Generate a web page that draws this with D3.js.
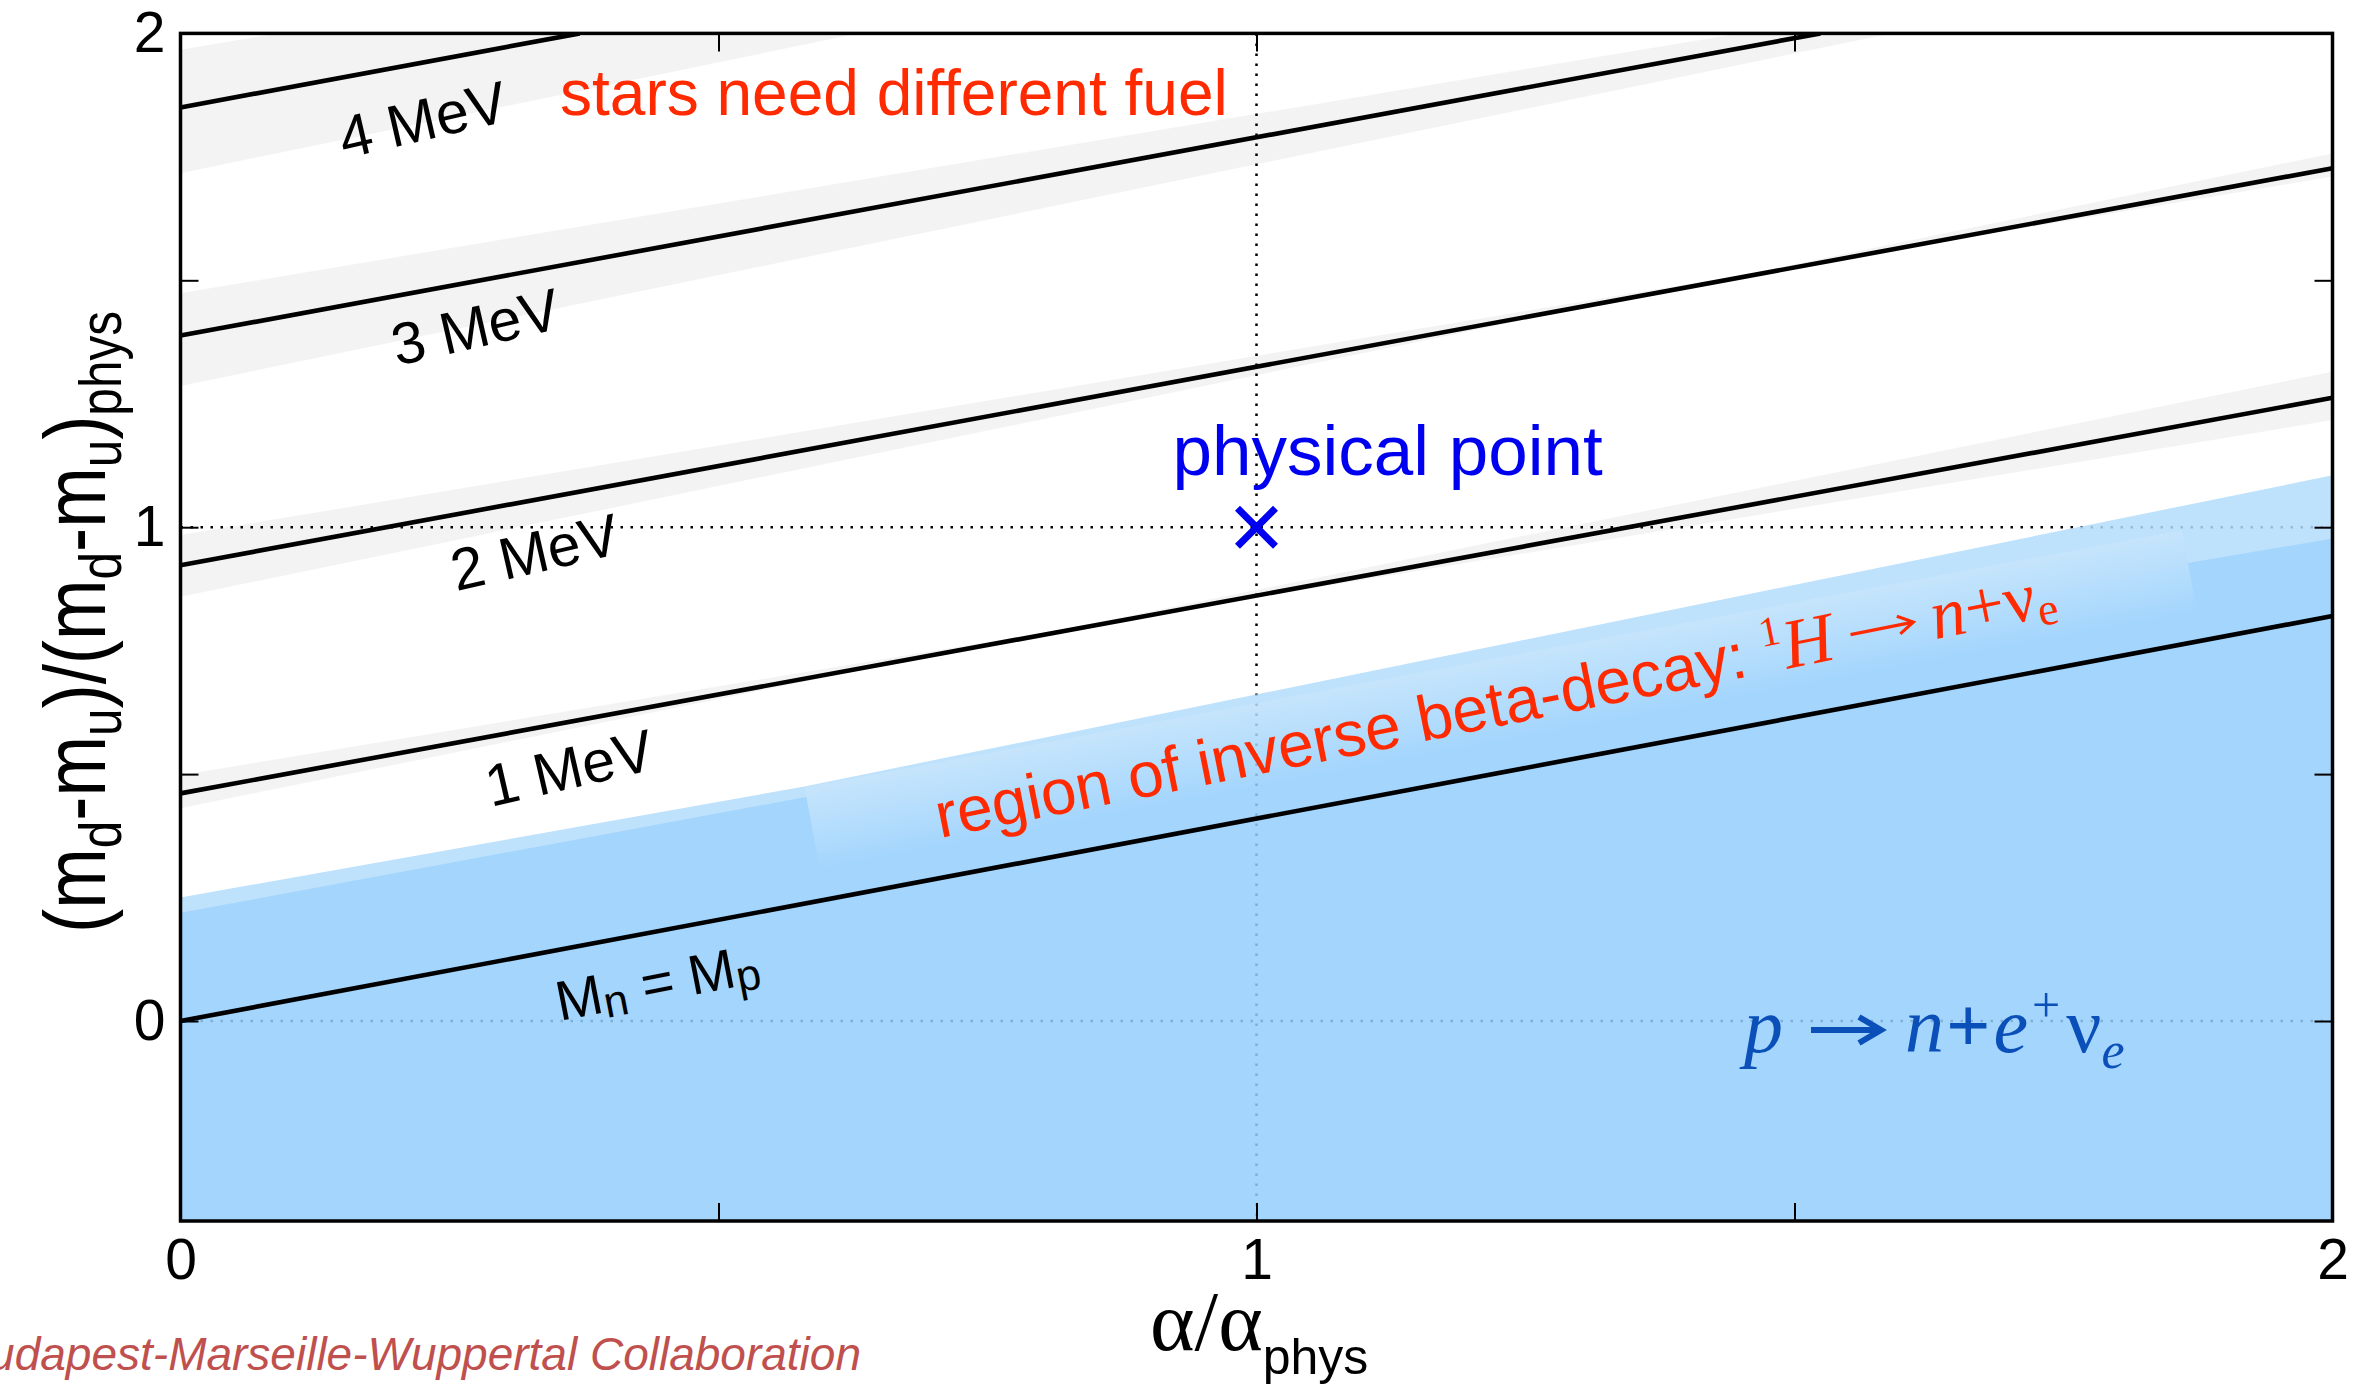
<!DOCTYPE html>
<html><head><meta charset="utf-8">
<script src="https://cdn.jsdelivr.net/npm/d3@7"></script>
<style>html,body{margin:0;padding:0;background:#fff;} svg{display:block;}</style>
</head><body>
<svg id="chart" width="2378" height="1387"></svg>
<script>
// ---------------- data ----------------
const xTickValues = [0, 0.5, 1, 1.5, 2];
const yTickValues = [0, 0.5, 1, 1.5, 2];
const xTickLabels = ["0", "", "1", "", "2"];
const yTickLabels = ["0", "", "1", "", "2"];

// contour lines of constant (M_n - M_p)
const contourNames = ["Mn = Mp", "1 MeV", "2 MeV", "3 MeV", "4 MeV"];
const contourX0 = [0, 0, 0, 0, 0];
const contourY0 = [0.000, 0.461, 0.923, 1.388, 1.850];
const contourX1 = [2, 2, 2, 1.524, 0.371];
const contourY1 = [0.820, 1.262, 1.727, 2.000, 2.000];

// uncertainty bands (1..4 MeV), edges given at alpha = 0 and alpha = 2
const bandUpperAt0 = [0.498, 0.984, 1.474, 1.967];
const bandUpperAt2 = [1.217, 1.710, 2.200, 2.693];
const bandLowerAt0 = [0.431, 0.859, 1.286, 1.717];
const bandLowerAt2 = [1.315, 1.757, 2.184, 2.615];

// inverse beta-decay region (blue)
const regionEdgeX = [0, 0.58, 2];
const regionLightTop = [0.250, 0.475, 1.105];
const regionDarkTop = [0.219, 0.453, 0.977];
// label box corners (top-left, top-right, bottom-left)
const boxX = [0.580, 1.860, 0.597];
const boxY = [0.473, 0.994, 0.270];

const physicalPoint = [1, 1];
const gridX = [1];
const gridY = [0, 1];

// ---------------- chart ----------------
const svg = d3.select("#chart");
const L = 180.5, R = 2332.5, T = 33.4, B = 1221;
const yMin = -0.405;
const x = d3.scaleLinear().domain([0, 2]).range([L, R]);
const y = d3.scaleLinear().domain([yMin, 2]).range([B, T]);

svg.append("rect").attr("width", 2378).attr("height", 1387).attr("fill", "#fff");

const defs = svg.append("defs");
defs.append("clipPath").attr("id", "plotClip")
  .append("rect").attr("x", L).attr("y", T).attr("width", R - L).attr("height", B - T);
const grad = defs.append("linearGradient").attr("id", "boxGrad")
  .attr("x1", 0).attr("y1", 0).attr("x2", 0).attr("y2", 1);
grad.append("stop").attr("offset", 0).attr("stop-color", "#bde1fc");
grad.append("stop").attr("offset", 0.85).attr("stop-color", "#93cefd");

const plot = svg.append("g").attr("clip-path", "url(#plotClip)");

// gray bands
const bandData = bandUpperAt0.map((u0, i) => [[0, u0], [2, bandUpperAt2[i]], [2, bandLowerAt2[i]], [0, bandLowerAt0[i]]]);
plot.append("g").selectAll("path").data(bandData).join("path")
  .attr("d", d => "M" + d.map(p => [x(p[0]), y(p[1])].join(",")).join("L") + "Z")
  .attr("fill", "#f3f3f3");

// dotted grid
plot.append("g").selectAll("line.gx").data(gridX).join("line")
  .attr("x1", d => x(d)).attr("x2", d => x(d)).attr("y1", T).attr("y2", B)
  .attr("stroke", "#000").attr("stroke-width", 2.5).attr("stroke-dasharray", "2.5,7.5");
plot.append("g").selectAll("line.gy").data(gridY).join("line")
  .attr("y1", d => y(d)).attr("y2", d => y(d)).attr("x1", L).attr("x2", R)
  .attr("stroke", "#000").attr("stroke-width", 2.5).attr("stroke-dasharray", "2.5,7.5");

// blue regions
const blue = plot.append("g").attr("opacity", 0.85);
const area = d3.area().x(d => x(d[0])).y0(y(yMin)).y1(d => y(d[1]));
blue.append("path").attr("d", area(regionEdgeX.map((v, i) => [v, regionLightTop[i]]))).attr("fill", "#b3ddfc");
blue.append("path").attr("d", area(regionEdgeX.map((v, i) => [v, regionDarkTop[i]]))).attr("fill", "#93cefd");
{
  const tl = [x(boxX[0]), y(boxY[0])], tr = [x(boxX[1]), y(boxY[1])], bl = [x(boxX[2]), y(boxY[2])];
  const ang = Math.atan2(tr[1] - tl[1], tr[0] - tl[0]) * 180 / Math.PI;
  const w = Math.hypot(tr[0] - tl[0], tr[1] - tl[1]);
  const h = Math.hypot(bl[0] - tl[0], bl[1] - tl[1]);
  blue.append("rect").attr("transform", `translate(${tl[0]},${tl[1]}) rotate(${ang})`)
    .attr("width", w).attr("height", h).attr("fill", "url(#boxGrad)");
}

// contour lines
plot.append("g").selectAll("line").data(contourNames).join("line")
  .attr("x1", (d, i) => x(contourX0[i])).attr("y1", (d, i) => y(contourY0[i]))
  .attr("x2", (d, i) => x(contourX1[i])).attr("y2", (d, i) => y(contourY1[i]))
  .attr("stroke", "#000").attr("stroke-width", 4.6);

// axes
function styleAxis(g) {
  g.select(".domain").remove();
  g.selectAll(".tick line").attr("stroke", "#000").attr("stroke-width", 2);
  g.selectAll(".tick text").attr("fill", "#000");
  g.attr("font-family", "'Liberation Sans', Arial, sans-serif").attr("font-size", 57);
}
svg.append("g").attr("transform", `translate(0,${B})`)
  .call(d3.axisBottom(x).tickValues(xTickValues).tickSizeInner(-18).tickSizeOuter(0).tickPadding(18)
    .tickFormat((d, i) => xTickLabels[i])).call(styleAxis);
svg.append("g").attr("transform", `translate(0,${T})`)
  .call(d3.axisTop(x).tickValues(xTickValues).tickSizeInner(-18).tickSizeOuter(0).tickFormat(() => "")).call(styleAxis);
svg.append("g").attr("transform", `translate(${L},0)`)
  .call(d3.axisLeft(y).tickValues(yTickValues).tickSizeInner(-18).tickSizeOuter(0).tickPadding(15)
    .tickFormat((d, i) => yTickLabels[i])).call(styleAxis);
svg.append("g").attr("transform", `translate(${R},0)`)
  .call(d3.axisRight(y).tickValues(yTickValues).tickSizeInner(-18).tickSizeOuter(0).tickFormat(() => "")).call(styleAxis);

svg.append("rect").attr("x", L).attr("y", T).attr("width", R - L).attr("height", B - T)
  .attr("fill", "none").attr("stroke", "#000").attr("stroke-width", 3.5);

// ---------------- annotations ----------------
const sans = "'Liberation Sans', Arial, Helvetica, sans-serif";
const serif = "'Liberation Serif', 'Times New Roman', serif";

function arrow(g, x0, x1, yc, sw, headL, headH, color) {
  g.append("path")
    .attr("d", `M${x0},${yc}L${x1 - sw * 0.4},${yc}M${x1 - headL},${yc - headH}L${x1},${yc}L${x1 - headL},${yc + headH}`)
    .attr("fill", "none").attr("stroke", color).attr("stroke-width", sw)
    .attr("stroke-linecap", "butt").attr("stroke-linejoin", "miter");
}

// contour labels
const labelPos = [[0.443, 0.080, -11], [0.361, 0.514, -13], [0.329, 0.951, -13], [0.274, 1.407, -13], [0.225, 1.827, -13]];
contourNames.forEach((name, i) => {
  const [lx, ly, rot] = labelPos[i];
  const t = svg.append("text").attr("font-family", sans).attr("font-size", i === 0 ? 56 : 59).attr("fill", "#000")
    .attr("text-anchor", "middle")
    .attr("transform", `translate(${x(lx)},${y(ly)}) rotate(${rot})`).attr("dy", "0.36em");
  if (i === 0) {
    t.append("tspan").text("M");
    t.append("tspan").attr("font-size", 44).attr("dy", 6).text("n");
    t.append("tspan").attr("dy", -6).text(" = M");
    t.append("tspan").attr("font-size", 44).attr("dy", 6).text("p");
  } else {
    t.text(name);
  }
});

// stars need different fuel
svg.append("text").attr("x", 560).attr("y", 115).attr("font-family", sans).attr("font-size", 64)
  .attr("fill", "#ff2a00").text("stars need different fuel");

// physical point
svg.append("path").attr("transform", `translate(${x(physicalPoint[0])},${y(physicalPoint[1])})`)
  .attr("d", "M-19,-19L19,19M-19,19L19,-19").attr("stroke", "#0000f0").attr("stroke-width", 7).attr("fill", "none");
svg.append("text").attr("x", x(physicalPoint[0]) - 84).attr("y", y(physicalPoint[1]) - 52)
  .attr("font-family", sans).attr("font-size", 71).attr("fill", "#0000f0").text("physical point");

// region label
{
  const g = svg.append("g").attr("transform", "translate(940,838) rotate(-11.3)");
  const red = "#ff2a00";
  const t = g.append("text").attr("font-family", sans).attr("font-size", 64).attr("fill", red);
  t.append("tspan").text("region of inverse beta-decay: ");
  t.append("tspan").attr("font-family", serif).attr("font-size", 42).attr("dy", -26).text("1");
  t.append("tspan").attr("font-family", serif).attr("font-style", "italic").attr("font-size", 70).attr("dy", 26).text("H");
  const len = t.node().getComputedTextLength();
  const a0 = len + 18, a1 = a0 + 64;
  arrow(g, a0, a1, -21, 3.2, 15, 9, red);
  const t2 = g.append("text").attr("x", a1 + 18).attr("font-family", serif).attr("font-size", 70).attr("fill", red);
  t2.append("tspan").attr("font-style", "italic").text("n");
  t2.append("tspan").text("+\u03BD");
  t2.append("tspan").attr("font-size", 46).attr("dy", 8).text("e");
}

// p -> n + e+ nu_e
{
  const g = svg.append("g").attr("transform", "translate(1744,1052)");
  const col = "#0b4fb8";
  const t = g.append("text").attr("font-family", serif).attr("font-size", 78).attr("fill", col)
    .attr("font-style", "italic").text("p");
  const len = t.node().getComputedTextLength();
  const a0 = len + 28, a1 = a0 + 70;
  arrow(g, a0, a1, -22, 6, 22, 13, col);
  const t2 = g.append("text").attr("x", a1 + 24).attr("font-family", serif).attr("font-size", 78).attr("fill", col);
  t2.append("tspan").attr("font-style", "italic").text("n");
  t2.append("tspan").attr("font-weight", "bold").attr("dx", 2).text("+");
  t2.append("tspan").attr("font-style", "italic").attr("dx", 3).text("e");
  t2.append("tspan").attr("font-size", 50).attr("dx", 4).attr("dy", -30).text("+");
  t2.append("tspan").attr("dx", 6).attr("dy", 30).text("\u03BD");
  t2.append("tspan").attr("font-style", "italic").attr("font-size", 52).attr("dy", 16).text("e");
}

// axis titles
{
  const t = svg.append("text").attr("x", 1150).attr("y", 1350).attr("fill", "#000");
  t.append("tspan").attr("font-family", serif).attr("font-size", 85).text("\u03B1/\u03B1");
  t.append("tspan").attr("font-family", sans).attr("font-size", 50).attr("dy", 24).text("phys");
}
{
  const g = svg.append("g").attr("transform", "translate(105,622) rotate(-90)");
  const t = g.append("text").attr("text-anchor", "middle").attr("font-family", sans).attr("font-size", 88).attr("fill", "#000");
  const parts = [["(m", 0], ["d", 1], ["-m", 0], ["u", 1], [")/(m", 0], ["d", 1], ["-m", 0], ["u", 1], [")", 0], ["phys", 1]];
  let cur = 0;
  parts.forEach(([s, sub]) => {
    const target = sub ? 16 : 0;
    t.append("tspan").attr("font-size", sub ? 60 : 88).attr("dy", target - cur).text(s);
    cur = target;
  });
  const len = t.node().getComputedTextLength();
  t.attr("transform", `scale(${622 / len},1)`);
}

// credit
svg.append("text").attr("x", 861).attr("y", 1370).attr("text-anchor", "end")
  .attr("font-family", sans).attr("font-style", "italic").attr("font-size", 46).attr("fill", "#c0504d")
  .text("Budapest-Marseille-Wuppertal Collaboration");
</script>
</body></html>
